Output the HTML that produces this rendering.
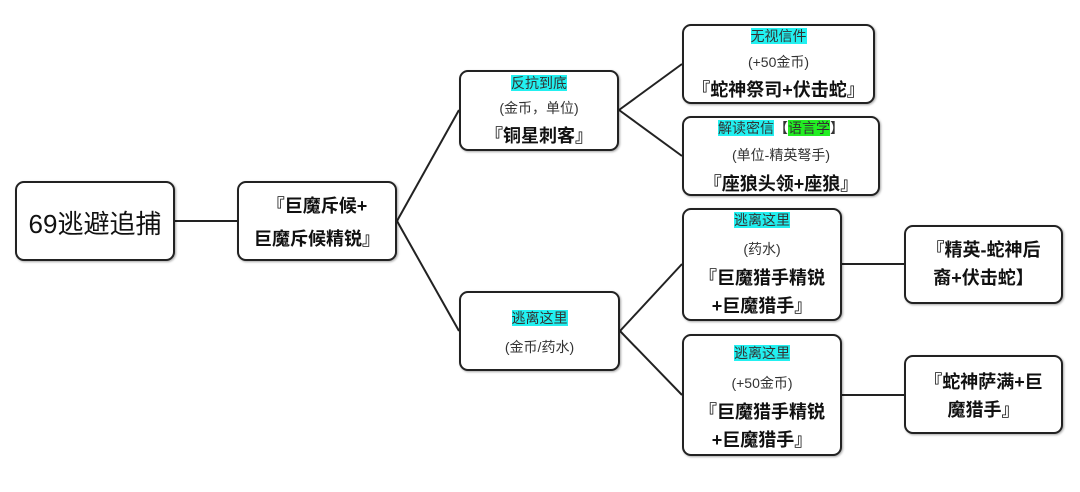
<!DOCTYPE html>
<html><head><meta charset="utf-8"><style>
body{margin:0;width:1080px;height:492px;background:#fff;position:relative;overflow:hidden;font-family:"Liberation Sans","Noto Sans CJK SC",sans-serif;color:#111}
.n{position:absolute;box-sizing:border-box;border:2px solid #222;border-radius:9px;background:#fff;text-align:center;box-shadow:1px 1px 2px rgba(0,0,0,.35)}
.l{position:absolute;left:0;right:0;white-space:nowrap}
.s{font-size:14px;color:#333}
.b{font-size:18px;font-weight:bold}
.c{background:#22f0f0}
.g{background:#22ee22}
svg{position:absolute;left:0;top:0}
</style></head><body>
<svg width="1080" height="492"><g stroke="#222" stroke-width="2" fill="none">
<line x1="175" y1="221" x2="237" y2="221"/>
<line x1="397" y1="221" x2="459" y2="110"/>
<line x1="397" y1="221" x2="459" y2="331"/>
<line x1="619" y1="110" x2="682" y2="64"/>
<line x1="619" y1="110" x2="682" y2="156"/>
<line x1="620" y1="331" x2="682" y2="264"/>
<line x1="620" y1="331" x2="682" y2="395"/>
<line x1="842" y1="264" x2="904" y2="264"/>
<line x1="842" y1="395" x2="904" y2="395"/>
</g></svg>

<div class="n" style="left:15px;top:181px;width:160px;height:80px"><div class="l" style="top:21px;font-size:26px">69逃避追捕</div></div>

<div class="n" style="left:237px;top:181px;width:160px;height:80px">
<div class="l b" style="top:9px">『巨魔斥候+</div>
<div class="l b" style="top:42px">巨魔斥候精锐』</div></div>

<div class="n" style="left:459px;top:70px;width:160px;height:81px">
<div class="l s" style="top:1px"><span class="c">反抗到底</span></div>
<div class="l s" style="top:26px">(金币，单位)</div>
<div class="l b" style="top:50px">『铜星刺客』</div></div>

<div class="n" style="left:459px;top:291px;width:161px;height:80px">
<div class="l s" style="top:15px"><span class="c">逃离这里</span></div>
<div class="l s" style="top:44px">(金币/药水)</div></div>

<div class="n" style="left:682px;top:24px;width:193px;height:80px">
<div class="l s" style="top:0px"><span class="c">无视信件</span></div>
<div class="l s" style="top:26px">(+50金币)</div>
<div class="l b" style="top:50px">『蛇神祭司+伏击蛇』</div></div>

<div class="n" style="left:682px;top:116px;width:198px;height:80px">
<div class="l s" style="top:0px"><span class="c">解读密信</span>【<span class="g">语言学</span>】</div>
<div class="l s" style="top:27px">(单位-精英弩手)</div>
<div class="l b" style="top:52px">『座狼头领+座狼』</div></div>

<div class="n" style="left:682px;top:208px;width:160px;height:113px">
<div class="l s" style="top:0px"><span class="c">逃离这里</span></div>
<div class="l s" style="top:29px">(药水)</div>
<div class="l b" style="top:54px">『巨魔猎手精锐</div>
<div class="l b" style="top:82px">+巨魔猎手』</div></div>

<div class="n" style="left:682px;top:334px;width:160px;height:122px">
<div class="l s" style="top:7px"><span class="c">逃离这里</span></div>
<div class="l s" style="top:37px">(+50金币)</div>
<div class="l b" style="top:62px">『巨魔猎手精锐</div>
<div class="l b" style="top:90px">+巨魔猎手』</div></div>

<div class="n" style="left:904px;top:225px;width:159px;height:79px">
<div class="l b" style="top:9px">『精英-蛇神后</div>
<div class="l b" style="top:37px">裔+伏击蛇】</div></div>

<div class="n" style="left:904px;top:355px;width:159px;height:79px">
<div class="l b" style="top:11px">『蛇神萨满+巨</div>
<div class="l b" style="top:39px">魔猎手』</div></div>
</body></html>
